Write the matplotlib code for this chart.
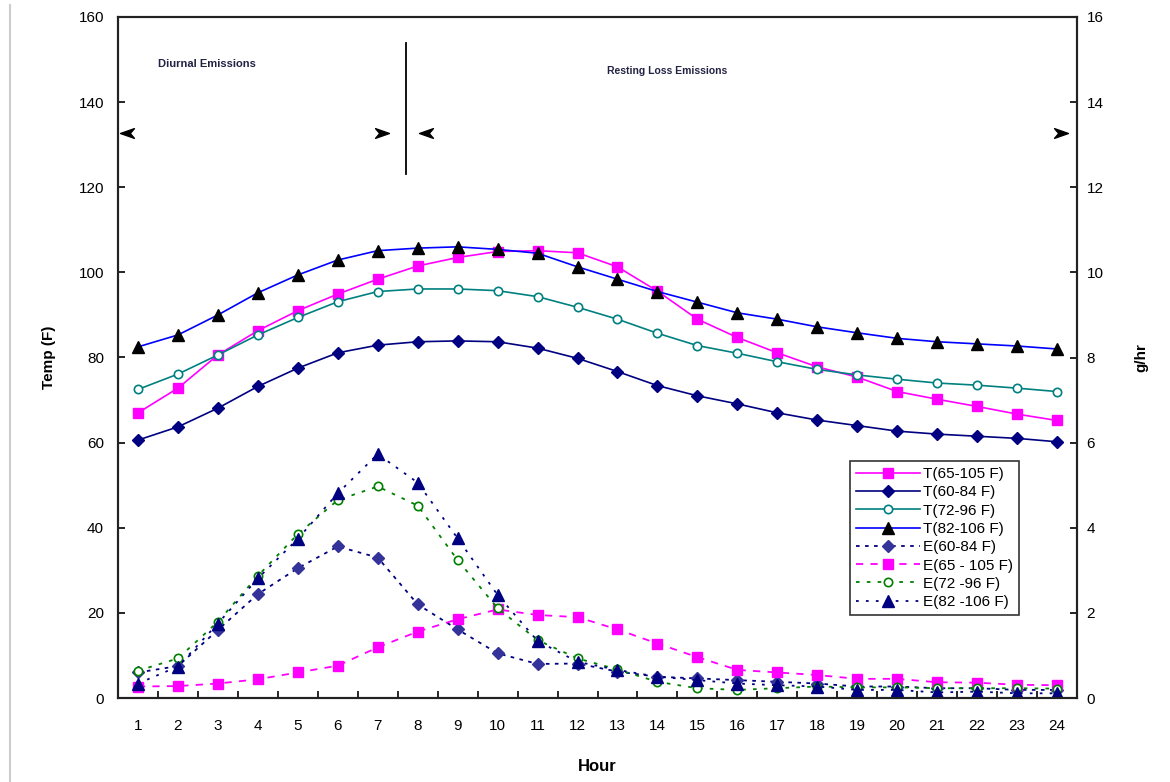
import numpy as np
import matplotlib
matplotlib.use("Agg")
import matplotlib.pyplot as plt
from matplotlib.lines import Line2D
from matplotlib.path import Path

plt.rcParams['font.family'] = ['Liberation Sans', 'DejaVu Sans']

hours = list(range(1, 25))

# temperatures (F), left axis
t_65_105 = [67.0, 72.8, 80.6, 86.3, 91.0, 94.9, 98.4, 101.5, 103.5, 104.9, 105.1, 104.6,
            101.3, 95.6, 89.0, 84.7, 81.1, 77.8, 75.4, 72.0, 70.2, 68.5, 66.7, 65.2]
t_60_84 = [60.6, 63.7, 68.1, 73.2, 77.5, 81.1, 82.9, 83.7, 83.9, 83.7, 82.2, 79.8,
           76.7, 73.4, 71.0, 69.1, 67.0, 65.3, 64.0, 62.7, 62.0, 61.5, 61.0, 60.2]
t_72_96 = [72.5, 76.1, 80.6, 85.3, 89.4, 93.1, 95.5, 96.1, 96.1, 95.7, 94.3, 91.8,
           89.0, 85.7, 82.8, 81.0, 79.0, 77.2, 75.9, 74.9, 74.0, 73.5, 72.8, 72.0]
t_82_106 = [82.5, 85.3, 90.0, 95.2, 99.4, 102.9, 105.1, 105.7, 106.0, 105.4, 104.5, 101.3,
            98.4, 95.5, 93.0, 90.5, 89.0, 87.2, 85.8, 84.5, 83.7, 83.2, 82.7, 82.0]

# emissions (g/hr), right axis
e_60_84 = [0.60, 0.75, 1.60, 2.44, 3.05, 3.56, 3.30, 2.20, 1.61, 1.05, 0.80, 0.81,
           0.62, 0.50, 0.46, 0.42, 0.38, 0.34, 0.27, 0.27, 0.23, 0.23, 0.19, 0.19]
e_65_105 = [0.27, 0.28, 0.34, 0.44, 0.60, 0.76, 1.19, 1.56, 1.85, 2.08, 1.95, 1.90,
            1.61, 1.28, 0.96, 0.66, 0.60, 0.54, 0.45, 0.45, 0.37, 0.36, 0.31, 0.30]
e_72_96 = [0.64, 0.93, 1.79, 2.87, 3.85, 4.65, 4.97, 4.52, 3.24, 2.11, 1.36, 0.93,
           0.67, 0.38, 0.23, 0.19, 0.23, 0.27, 0.25, 0.25, 0.23, 0.23, 0.23, 0.22]
e_82_106 = [0.34, 0.74, 1.75, 2.81, 3.74, 4.81, 5.73, 5.06, 3.75, 2.42, 1.34, 0.85,
            0.66, 0.50, 0.42, 0.34, 0.30, 0.27, 0.19, 0.19, 0.13, 0.15, 0.11, 0.11]

fig = plt.figure(figsize=(11.7, 7.82), dpi=100)
ax = fig.add_axes([118/1170, 1-698/782, (1077-118)/1170, (698-17)/782])
ax2 = ax.twinx()

ax.plot(hours, t_65_105, color='#FF00FF', lw=1.2, marker='s', ms=7, mec='#FF00FF', mfc='#FF00FF', label='T(65-105 F)')
ax.plot(hours, t_60_84, color='#000080', lw=1.2, marker='D', ms=6, mec='#000080', mfc='#000080', label='T(60-84 F)')
ax.plot(hours, t_72_96, color='#008080', lw=1.2, marker='o', ms=6, mec='#008080', mfc='white', mew=1.2, label='T(72-96 F)')
ax.plot(hours, t_82_106, color='#0000FF', lw=1.2, marker='^', ms=8, mec='black', mfc='black', label='T(82-106 F)')

ax2.plot(hours, e_60_84, color='#000080', lw=1.3, ls=(0, (2, 3)), marker='D', ms=6, mec='#333399', mfc='#333399', label='E(60-84 F)')
ax2.plot(hours, e_65_105, color='#FF00FF', lw=1.3, ls=(0, (4, 4)), marker='s', ms=7, mec='#FF00FF', mfc='#FF00FF', label='E(65 - 105 F)')
ax2.plot(hours, e_72_96, color='#008000', lw=1.3, ls=(0, (2, 4)), marker='o', ms=6, mec='#008000', mfc='white', mew=1.2, label='E(72 -96 F)')
ax2.plot(hours, e_82_106, color='#000080', lw=1.3, ls=(0, (1.5, 4)), marker='^', ms=8, mec='#000080', mfc='#000080', label='E(82 -106 F)')

ax.set_xlim(0.5, 24.5)
ax.set_ylim(0, 160)
ax2.set_ylim(0, 16)
ax.set_yticks(np.arange(0, 161, 20))
ax2.set_yticks(np.arange(0, 17, 2))
ax.set_xticks(hours)
ax.set_xticks(np.arange(1.5, 24, 1), minor=True)
ax.tick_params(axis='x', which='major', length=0, pad=15, labelsize=11)
ax.tick_params(axis='x', which='minor', direction='in', length=5, width=1.2)
ax.tick_params(axis='y', direction='in', length=5, width=1.2, pad=10, labelsize=11)
ax2.tick_params(axis='y', direction='in', length=5, width=1.2, pad=7, labelsize=11)

for a in (ax, ax2):
    for s in a.spines.values():
        s.set_linewidth(1.5)
        s.set_color('#222222')

ax.set_xlabel('Hour', fontsize=12, fontweight='bold', labelpad=19)
ax.set_ylabel('Temp (F)', fontsize=11, fontweight='bold', labelpad=16)
ax2.set_ylabel('g/hr', fontsize=11, fontweight='bold', labelpad=22, rotation=90)

# region annotations
ax.text(1.5, 149, 'Diurnal Emissions', fontsize=8, fontweight='bold', color='#222244', va='center')
ax.text(12.75, 147.3, 'Resting Loss Emissions', fontsize=7.5, fontweight='bold', color='#222244', va='center')
ax.plot([7.7, 7.7], [154, 123], color='black', lw=1.3)

arrow_r = Path([(-1, 0.7), (1, 0), (-1, -0.7), (-0.4, 0), (-1, 0.7)],
               [Path.MOVETO, Path.LINETO, Path.LINETO, Path.LINETO, Path.CLOSEPOLY])
arrow_l = Path([(1, 0.7), (-1, 0), (1, -0.7), (0.4, 0), (1, 0.7)],
               [Path.MOVETO, Path.LINETO, Path.LINETO, Path.LINETO, Path.CLOSEPOLY])
ax.plot([0.72, 8.2], [132.8, 132.8], ls='none', marker=arrow_l, ms=10, color='black', clip_on=False)
ax.plot([7.1, 24.1], [132.8, 132.8], ls='none', marker=arrow_r, ms=10, color='black', clip_on=False)

h1, l1 = ax.get_legend_handles_labels()
h2, l2 = ax2.get_legend_handles_labels()
leg = ax2.legend(h1 + h2, l1 + l2, loc='upper left', bbox_to_anchor=(0.763, 0.348),
                 fontsize=11, frameon=True, fancybox=False, edgecolor='black',
                 borderpad=0.4, labelspacing=0.28, handlelength=4.2, handletextpad=0.2,
                 borderaxespad=0)
leg.get_frame().set_linewidth(1.2)

fig.add_artist(Line2D([10/1170, 10/1170], [0, 1-5/782], color='#cccccc', lw=1.5))

fig.savefig('out.png', dpi=100)
